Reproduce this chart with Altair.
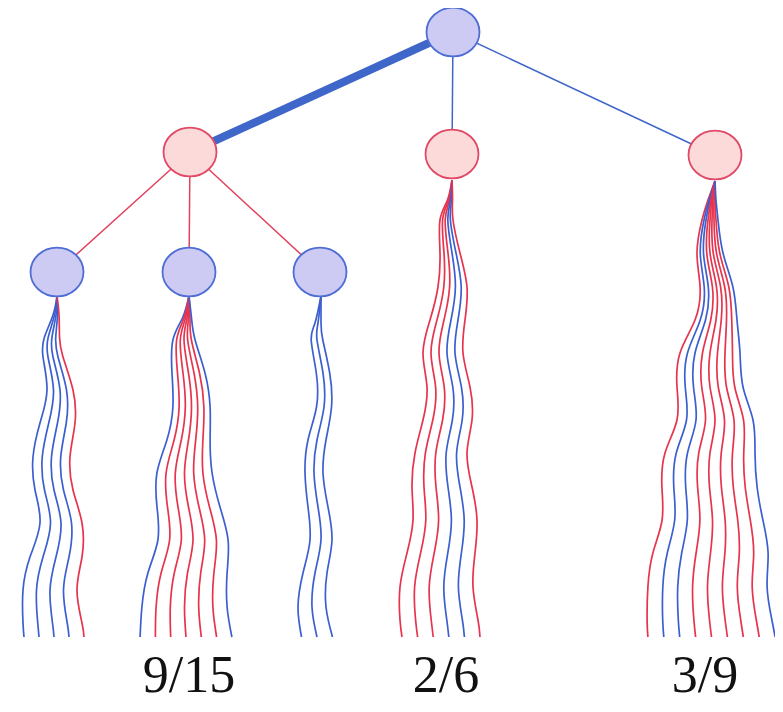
import altair as alt
import pandas as pd

# ---------------- data ----------------
# tree nodes (pixel-space coordinates of the picture)
node_names = ["root", "a", "b", "c", "a1", "a2", "a3"]
node_x = [453, 190, 452, 715, 57, 189, 320]
node_y = [32, 152, 154, 155, 272, 272, 272]
node_kind = ["blue", "red", "red", "red", "blue", "blue", "blue"]

edge_from = ["root", "root", "root", "a", "a", "a"]
edge_to = ["a", "b", "c", "a1", "a2", "a3"]
edge_kind = ["blue", "blue", "blue", "red", "red", "red"]
edge_width = [8, 1.5, 1.5, 1.5, 1.5, 1.5]

# rollout bundles: line colours (left to right), bundle centre and line spacing along depth
bundle_colors = {
    "a1": ["B", "B", "B", "B", "R"],
    "a2": ["B", "R", "R", "R", "R", "R", "B"],
    "a3": ["B", "B", "B"],
    "b": ["R", "R", "R", "B", "B", "R"],
    "c": ["R", "B", "B", "R", "R", "R", "R", "R", "B"],
}
bundle_y = {
    "a1": [296, 315, 337, 357, 390, 423, 457, 490, 523, 557, 590, 623, 637],
    "a2": [296, 318, 340, 373, 407, 440, 473, 507, 540, 573, 607, 637],
    "a3": [296, 323, 340, 373, 407, 440, 473, 507, 540, 573, 607, 637],
    "b": [180, 200, 220, 253, 287, 320, 353, 387, 420, 453, 487, 520, 553, 587, 620, 637],
    "c": [181, 200, 220, 253, 287, 320, 353, 387, 420, 453, 487, 520, 553, 587, 620, 637],
}
bundle_cx = {
    "a1": [57, 56, 52, 53, 60, 57.5, 51.5, 54, 61, 56, 50, 52.5, 54],
    "a2": [189, 187, 184, 188.5, 191.5, 188.5, 184.5, 188.5, 193, 187.5, 184.5, 186],
    "a3": [321, 318, 317, 323, 324, 317, 314, 318, 321, 315, 312, 317],
    "b": [452, 450, 446.5, 450, 452.5, 447.5, 443, 448.5, 447.5, 441, 442, 445, 441, 436.5, 439, 441],
    "c": [715, 712, 710, 710, 716.5, 716, 710, 710, 715, 710, 709.5, 712.5, 710.5, 707.5, 709.5, 711.5],
}
bundle_sp = {
    "a1": [0, 1.5, 3.75, 5, 6.5, 8.75, 9.25, 9.5, 10.5, 13, 13.5, 14.75, 15],
    "a2": [0, 1.5, 3.7, 5.5, 6.2, 7.2, 9.2, 10.5, 11.7, 13.2, 14.2, 15.3],
    "a3": [0, 3, 5.8, 6.7, 7.5, 9, 9, 10, 11, 12, 14, 15.5],
    "b": [0, 1, 2.6, 4, 5.8, 7, 8, 8.6, 9.8, 10.4, 12, 12.8, 13.6, 14.6, 15.6, 15.6],
    "c": [0, 1, 2, 3.25, 4.1, 5.25, 7.5, 8.25, 9.5, 11.25, 11.9, 12.6, 14.4, 14.9, 15.6, 15.9],
}

label_text = ["9/15", "2/6", "3/9"]
label_x = [189, 446, 705]
label_y = [692, 692, 692]

# ---------------- styling ----------------
FILL = {"blue": "#cdcbf4", "red": "#fcdada"}
STROKE = {"blue": "#4f6ed4", "red": "#e04a66"}
EDGE = {"blue": "#3f66c9", "red": "#e2425e"}
LINE = {"B": "#3c5fd0", "R": "#e6344e"}

W, H = 767, 696
xs = alt.Scale(domain=[8, 8 + W], nice=False, zero=False)
ys = alt.Scale(domain=[8, 8 + H], nice=False, zero=False, reverse=True)

pos = dict(zip(node_names, zip(node_x, node_y)))

edges = pd.DataFrame({
    "x": [pos[f][0] for f in edge_from],
    "y": [pos[f][1] for f in edge_from],
    "x2": [pos[t][0] for t in edge_to],
    "y2": [pos[t][1] for t in edge_to],
    "color": [EDGE[k] for k in edge_kind],
    "w": edge_width,
})

rows = []
for g, cols in bundle_colors.items():
    n = len(cols)
    for i, c in enumerate(cols):
        off = i - (n - 1) / 2
        for k, (yy, cx, sp) in enumerate(zip(bundle_y[g], bundle_cx[g], bundle_sp[g])):
            rows.append({"id": f"{g}-{i}", "k": k, "x": cx + sp * off, "y": yy,
                         "color": LINE[c]})
rollouts = pd.DataFrame(rows)

nodes = pd.DataFrame({
    "x": node_x, "y": node_y,
    "fill": [FILL[k] for k in node_kind],
    "stroke": [STROKE[k] for k in node_kind],
})

labels = pd.DataFrame({"x": label_x, "y": label_y, "t": label_text})

edge_layer = alt.Chart(edges).mark_rule().encode(
    x=alt.X("x:Q", scale=xs, axis=None),
    y=alt.Y("y:Q", scale=ys, axis=None),
    x2="x2:Q", y2="y2:Q",
    color=alt.Color("color:N", scale=None),
    strokeWidth=alt.StrokeWidth("w:Q", scale=None),
)

roll_layer = alt.Chart(rollouts).mark_line(
    interpolate="natural", strokeWidth=1.7
).encode(
    x=alt.X("x:Q", scale=xs, axis=None),
    y=alt.Y("y:Q", scale=ys, axis=None),
    detail="id:N",
    order="k:Q",
    color=alt.Color("color:N", scale=None),
)

ellipse = "M -1 0 A 1 0.92 0 1 1 1 0 A 1 0.92 0 1 1 -1 0 Z"
node_layer = alt.Chart(nodes).mark_point(
    shape=ellipse, size=53 * 53, filled=True, opacity=1, strokeWidth=1.8
).encode(
    x=alt.X("x:Q", scale=xs, axis=None),
    y=alt.Y("y:Q", scale=ys, axis=None),
    fill=alt.Fill("fill:N", scale=None),
    stroke=alt.Stroke("stroke:N", scale=None),
)

text_layer = alt.Chart(labels).mark_text(
    font="Liberation Serif", fontSize=52, align="center", baseline="alphabetic",
    color="#111111"
).encode(
    x=alt.X("x:Q", scale=xs, axis=None),
    y=alt.Y("y:Q", scale=ys, axis=None),
    text="t:N",
)

chart = alt.layer(edge_layer, roll_layer, node_layer, text_layer).properties(
    width=W, height=H, padding=0, autosize=alt.AutoSizeParams(type="none"),
    background="white",
).configure_view(stroke=None)

chart.save("out.html", embed_options={"renderer": "svg", "actions": False})
